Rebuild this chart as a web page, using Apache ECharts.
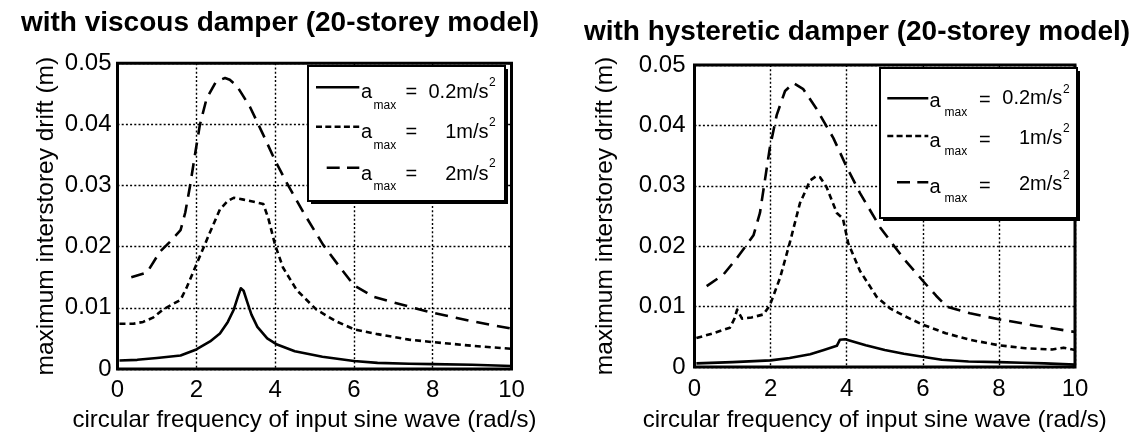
<!DOCTYPE html>
<html>
<head>
<meta charset="utf-8">
<script src="https://cdn.jsdelivr.net/npm/echarts@6/dist/echarts.min.js"></script>
<style>
  html, body { margin: 0; padding: 0; background: #fff; }
  #chart { width: 1133px; height: 437px; }
</style>
</head>
<body>
<div id="chart"></div>
<script>
// ---- axis ticks ----
const freqTicks = [0, 2, 4, 6, 8, 10];
const driftTicks = [0, 0.01, 0.02, 0.03, 0.04, 0.05];

// ---- viscous damper, 20-storey model ----
const viscousFreq02 = [0.05, 0.5, 1.0, 1.6, 2.0, 2.35, 2.6, 2.8, 2.95, 3.05, 3.13, 3.2, 3.3, 3.4, 3.55, 3.8, 4.05, 4.5, 5.2, 6.0, 6.6, 7.4, 8.0, 9.0, 10];
const viscousDrift02 = [0.0014, 0.0015, 0.0018, 0.0022, 0.0032, 0.0045, 0.0058, 0.0077, 0.0097, 0.0117, 0.0132, 0.0128, 0.0108, 0.0089, 0.0069, 0.0050, 0.0040, 0.0029, 0.0020, 0.0013, 0.0010, 0.00085, 0.0008, 0.0007, 0.0005];

const viscousFreq1 = [0.05, 0.4, 0.65, 0.9, 1.15, 1.4, 1.6, 1.76, 1.97, 2.18, 2.35, 2.6, 2.8, 2.95, 3.2, 3.7, 3.83, 4.0, 4.2, 4.55, 5.05, 5.55, 6.0, 6.6, 7.4, 8.0, 9.0, 10];
const viscousDrift1 = [0.0074, 0.0074, 0.0077, 0.0084, 0.0097, 0.0106, 0.0113, 0.0134, 0.0166, 0.0198, 0.0224, 0.0261, 0.0275, 0.0280, 0.0277, 0.0270, 0.0246, 0.0203, 0.0166, 0.0129, 0.0097, 0.0078, 0.0065, 0.0057, 0.0048, 0.0044, 0.0038, 0.0033];

const viscousFreq2 = [0.35, 0.75, 1.08, 1.33, 1.6, 1.72, 1.84, 1.97, 2.09, 2.26, 2.5, 2.73, 2.85, 3.03, 3.36, 3.7, 4.0, 4.3, 4.72, 5.22, 5.65, 6.0, 6.5, 7.4, 8.0, 9.0, 10];
const viscousDrift2 = [0.0150, 0.0158, 0.0192, 0.0208, 0.0227, 0.0256, 0.0299, 0.0352, 0.0399, 0.0442, 0.0470, 0.0476, 0.0473, 0.0463, 0.0429, 0.0383, 0.0341, 0.0304, 0.0256, 0.0203, 0.0166, 0.0137, 0.0118, 0.0102, 0.0092, 0.0078, 0.0066];

// ---- hysteretic damper, 20-storey model ----
const hystFreq02 = [0.05, 1.0, 2.0, 2.5, 3.04, 3.4, 3.74, 3.82, 3.96, 4.5, 5.0, 5.5, 6.0, 6.2, 6.5, 7.2, 8.0, 8.6, 9.2, 10];
const hystDrift02 = [0.0006, 0.0008, 0.0011, 0.0015, 0.0021, 0.0028, 0.0035, 0.0045, 0.0046, 0.0036, 0.0028, 0.0022, 0.0017, 0.0015, 0.0012, 0.0009, 0.0008, 0.0007, 0.0006, 0.0004];

const hystFreq1 = [0.05, 0.5, 0.93, 1.05, 1.12, 1.25, 1.5, 1.81, 1.98, 2.25, 2.51, 2.77, 3.04, 3.2, 3.3, 3.47, 3.74, 3.9, 4.04, 4.35, 4.79, 5.14, 5.5, 6.0, 6.6, 7.24, 8.0, 8.7, 9.4, 9.7, 10];
const hystDrift1 = [0.0048, 0.0056, 0.0065, 0.0080, 0.0095, 0.0080, 0.0082, 0.0087, 0.0102, 0.0148, 0.0207, 0.0271, 0.0309, 0.0316, 0.0314, 0.0298, 0.0255, 0.0246, 0.0205, 0.0159, 0.0116, 0.0097, 0.0085, 0.0070, 0.0056, 0.0045, 0.0036, 0.0031, 0.0029, 0.0032, 0.0028];

const hystFreq2 = [0.32, 0.76, 1.11, 1.37, 1.55, 1.72, 1.85, 1.98, 2.16, 2.38, 2.6, 2.86, 3.21, 3.65, 4.0, 4.35, 4.88, 5.49, 6.01, 6.35, 6.63, 7.24, 8.0, 9.0, 10];
const hystDrift2 = [0.0134, 0.0153, 0.0180, 0.0202, 0.0218, 0.0255, 0.0309, 0.0363, 0.0417, 0.0457, 0.0470, 0.0460, 0.0427, 0.0379, 0.0331, 0.0288, 0.0231, 0.0180, 0.0142, 0.0118, 0.0100, 0.0089, 0.0079, 0.0068, 0.0058];

// ---- legend entries ----
const legendValues = ['0.2m/s', '1m/s', '2m/s'];
const panelTitles = ['with viscous damper (20-storey model)', 'with hysteretic damper (20-storey model)'];
const xName = 'circular frequency of input sine wave (rad/s)';
const yName = 'maximum interstorey drift (m)';

const FONT = '"Liberation Sans", Arial, Helvetica, sans-serif';
const LINE_DASH = [null, [6, 4], [13, 8]];

function pairs(xs, ys) { return xs.map((x, i) => [x, ys[i]]); }

function lineSeries(idx, xs, ys, style) {
  return {
    type: 'line', xAxisIndex: idx, yAxisIndex: idx,
    data: pairs(xs, ys), showSymbol: false, symbol: 'none',
    lineStyle: { color: '#000', width: 2.6, type: LINE_DASH[style] || 'solid', cap: 'butt', join: 'round' },
    z: 3
  };
}

function xAxisCfg(idx, labelMargin, nameGap) {
  return {
    gridIndex: idx, type: 'value', min: freqTicks[0], max: freqTicks[freqTicks.length - 1], interval: 2,
    axisLine: { show: false }, axisTick: { show: false },
    axisLabel: { fontSize: 24, color: '#000', fontFamily: FONT, margin: labelMargin },
    splitLine: { show: true, lineStyle: { color: '#000', width: 1.4, type: [2, 2.2] } },
    name: xName, nameLocation: 'middle', nameGap: nameGap,
    nameTextStyle: { fontSize: 24, color: '#000', fontFamily: FONT, padding: [0, 20, 0, 0] }
  };
}

function yAxisCfg(idx, labelMargin, nameGap) {
  return {
    gridIndex: idx, type: 'value', min: driftTicks[0], max: driftTicks[driftTicks.length - 1], interval: 0.01,
    axisLine: { show: false }, axisTick: { show: false },
    axisLabel: {
      fontSize: 24, color: '#000', fontFamily: FONT, margin: labelMargin,
      formatter: v => (Math.abs(v) < 1e-9 ? '0' : v.toFixed(2))
    },
    splitLine: { show: true, lineStyle: { color: '#000', width: 1.4, type: [2, 2.2] } },
    name: yName, nameLocation: 'middle', nameGap: nameGap,
    nameTextStyle: { fontSize: 24.5, color: '#000', fontFamily: FONT }
  };
}

// legend box drawn inside a panel: a white framed box with a hard black drop shadow
function legendGraphics(box, rows) {
  const els = [];
  els.push({ type: 'rect', z: 50, shape: { x: box.x + 3, y: box.y + 3, width: box.w, height: box.h }, style: { fill: '#000' } });
  els.push({ type: 'rect', z: 51, shape: { x: box.x, y: box.y, width: box.w, height: box.h }, style: { fill: '#fff', stroke: '#000', lineWidth: 2 } });
  rows.forEach((r, i) => {
    els.push({
      type: 'line', z: 52,
      shape: { x1: r.lx1, y1: r.ly, x2: r.lx2, y2: r.ly },
      style: { stroke: '#000', lineWidth: 2.6, lineDash: LINE_DASH[i] ? [LINE_DASH[i][0], LINE_DASH[i][1] - 0.7] : null }
    });
    const t = (text, x, y, size, align) => ({
      type: 'text', z: 52,
      style: { text, x, y, fill: '#000', font: size + 'px ' + FONT, align: align || 'left', verticalAlign: 'middle' }
    });
    els.push(t('a', box.ax, r.vm + box.ady, 20));
    els.push(t('max', box.subx, r.vm + box.ady + box.subdy, 12));
    els.push(t('=', box.eqx, r.vm + box.eqdy, 20));
    els.push(t(legendValues[i], box.valx, r.vm, 20, 'right'));
    els.push(t('2', box.valx + 0.6, r.vm + box.supdy, 12));
  });
  return els;
}

const leftLegend = legendGraphics(
  { x: 308, y: 66, w: 197, h: 135, ax: 361, subx: 373.5, eqx: 405.5, valx: 488.5, ady: 0, subdy: 13, eqdy: 0, supdy: -10 },
  [
    { lx1: 316, lx2: 359.3, ly: 87.3, vm: 92.5 },
    { lx1: 316, lx2: 359.3, ly: 126.7, vm: 132.5 },
    { lx1: 326.7, lx2: 359.3, ly: 167.7, vm: 174 }
  ]
);
const rightLegend = legendGraphics(
  { x: 880, y: 68, w: 197, h: 150, ax: 929.5, subx: 944.5, eqx: 979, valx: 1062.3, ady: 3, subdy: 11, eqdy: 2, supdy: -9 },
  [
    { lx1: 887.3, lx2: 928.3, ly: 98.3, vm: 98.5 },
    { lx1: 887.3, lx2: 928.3, ly: 136, vm: 138 },
    { lx1: 897, lx2: 928.3, ly: 182.3, vm: 184.5 }
  ]
);

const titleGraphics = [
  { type: 'text', z: 60, style: { text: panelTitles[0], x: 280, y: 23, fill: '#000', font: 'bold 28px ' + FONT, align: 'center', verticalAlign: 'middle' } },
  { type: 'text', z: 60, style: { text: panelTitles[1], x: 857, y: 32.5, fill: '#000', font: 'bold 28px ' + FONT, align: 'center', verticalAlign: 'middle' } }
];

const chart = echarts.init(document.getElementById('chart'), null, { renderer: 'canvas' });
chart.setOption({
  animation: false,
  backgroundColor: '#fff',
  textStyle: { fontFamily: FONT },
  grid: [
    { left: 117.5, top: 63.3, width: 394, height: 314.2, show: true, borderColor: '#000', borderWidth: 3, backgroundColor: '#fff' },
    { left: 694.5, top: 65, width: 380.5, height: 310, show: true, borderColor: '#000', borderWidth: 3, backgroundColor: '#fff' }
  ],
  xAxis: [xAxisCfg(0, 9, 39), xAxisCfg(1, 10.5, 41)],
  yAxis: [yAxisCfg(0, 6, 58.5), yAxisCfg(1, 9, 76.5)],
  series: [
    lineSeries(0, viscousFreq02, viscousDrift02, 0),
    lineSeries(0, viscousFreq1, viscousDrift1, 1),
    lineSeries(0, viscousFreq2, viscousDrift2, 2),
    lineSeries(1, hystFreq02, hystDrift02, 0),
    lineSeries(1, hystFreq1, hystDrift1, 1),
    lineSeries(1, hystFreq2, hystDrift2, 2)
  ],
  graphic: { elements: titleGraphics.concat(leftLegend, rightLegend) }
});
</script>
</body>
</html>
